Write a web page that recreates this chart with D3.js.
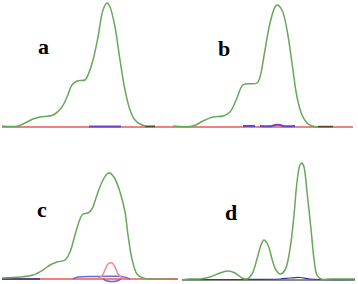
<!DOCTYPE html>
<html>
<head>
<meta charset="utf-8">
<script src="https://cdn.jsdelivr.net/npm/d3@7"></script>
<style>
  body { margin: 0; background: #fff; }
</style>
</head>
<body>
<script>
const W = 358, H = 284

// chromatograms, [time, intensity]
const greenA = [[2,1],[18,1],[33,8],[40,10],[53,12],[62,20],[67,30],[72,42],[77,46],[85,47],[88,52],[93,67],[98,90],[103,117],[107,124],[110,120],[115,100],[120,67],[125,37],[130,17],[135,7],[140,3],[145,1],[155,1]]
const redA = [[2,0],[170,0]]
const blueA = [[89,0.5],[121,0.5]]
const blackA = [[145,0.5],[155,0.5]]

const greenB = [[3,1],[23,1],[33,6],[43,10],[53,11],[60,15],[67,29],[73,42],[87,44],[90,50],[95,77],[100,104],[105,120],[107,122],[112,117],[117,97],[122,64],[127,30],[132,12],[137,4],[142,1],[148,0],[163,0]]
const redB = [[0,0],[183,0]]
const blueB1 = [[73,1],[85,1]]
const blueB2 = [[90,1],[102,1],[105,2],[110,2],[113,1],[125,1]]
const blackB = [[148,0.5],[163,0.5]]

const greenC = [[2,1],[20,2],[33,4],[43,9],[50,14],[57,17],[65,19],[70,27],[75,44],[80,60],[83,65],[88,66],[92,70],[97,84],[102,97],[107,105],[110,106],[115,100],[120,87],[125,67],[128,44],[132,20],[137,5],[143,1],[150,0],[178,0]]
const redC = [[2,0],[178,0]]
const pinkC = [[98,1],[102,3],[105,9],[108,15],[112,16],[115,12],[118,5],[121,2],[124,1]]
const blueC1 = [[73,0],[78,2],[100,2.5],[122,2.5],[130,0]]
const blueC2 = [[103,0],[107,-2],[112,-2.5],[117,-2],[121,0]]
const navyC = [[2,0],[40,0]]

const greenD = [[12,0],[20,1],[30,1],[40,3],[50,7],[58,9],[65,7],[72,2],[77,1],[82,6],[87,21],[91,35],[94,40],[98,35],[102,21],[106,10],[110,6],[115,10],[120,31],[124,65],[127,98],[130,115],[132,117],[134,113],[137,88],[141,51],[144,21],[147,5],[151,1],[160,1],[185,1]]
const greyD = [[12,0],[185,0]]
const blueD = [[12,0.5],[25,0.5],[60,0.5],[70,0.5],[110,1],[120,2],[130,2.5],[140,1],[185,0.5]]
const redD = [[0,1],[7,1]]

const labels = ["a", "b", "c", "d"]

const panels = [
  {x0: 0, base: 127, label: [38, 54], traces: [
    [redA, "#ee8282", 2], [greenA, "#68a85a", 1.5], [blueA, "#6a44c4", 2], [blackA, "#5a4a30", 1.5]]},
  {x0: 170, base: 127, label: [48, 56], traces: [
    [redB, "#ee8282", 2], [greenB, "#68a85a", 1.5], [blueB1, "#6a44c4", 2], [blueB2, "#6a44c4", 2], [blackB, "#5a4a30", 1.5]]},
  {x0: 0, base: 279, label: [37, 217], traces: [
    [redC, "#ee8282", 2], [navyC, "#3a2a80", 1.5], [greenC, "#68a85a", 1.5], [blueC1, "#6a6ae0", 1.5], [blueC2, "#6a6ae0", 1.5], [pinkC, "#f08a95", 1.5]]},
  {x0: 170, base: 280, label: [55, 220], traces: [
    [redD, "#e07050", 1.5], [greyD, "#666", 1.5], [blueD, "#2a3aa0", 1.2], [greenD, "#68a85a", 1.5]]}
]

const svg = d3.select("body").append("svg")
  .attr("width", W)
  .attr("height", H)

panels.forEach((p, i) => {
  const x = d3.scaleLinear().domain([0, 180]).range([p.x0, p.x0 + 180])
  const y = d3.scaleLinear().domain([0, 130]).range([p.base, p.base - 130])
  const line = d3.line()
    .x(d => x(d[0]))
    .y(d => y(d[1]))
    .curve(d3.curveCatmullRom)

  const g = svg.append("g")
  p.traces.forEach(t => {
    g.append("path")
      .attr("d", line(t[0]))
      .attr("fill", "none")
      .attr("stroke", t[1])
      .attr("stroke-width", t[2])
      .attr("stroke-linejoin", "round")
  })

  g.append("text")
    .attr("x", x(p.label[0]))
    .attr("y", p.label[1])
    .attr("font-family", "Liberation Serif, serif")
    .attr("font-weight", "bold")
    .attr("font-size", 22)
    .text(labels[i])
})
</script>
</body>
</html>
